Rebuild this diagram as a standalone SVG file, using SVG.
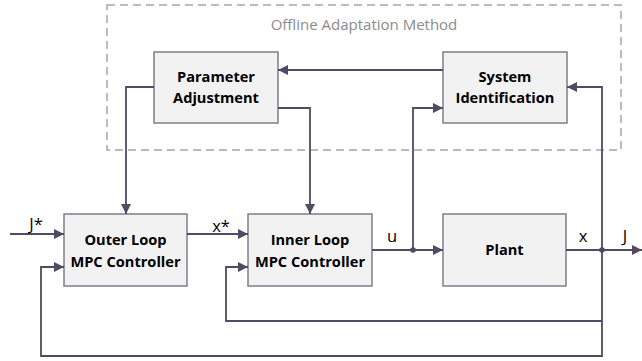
<svg xmlns="http://www.w3.org/2000/svg" width="642" height="361" viewBox="0 0 642 361">
<style>
.box{fill:#F2F2F2;stroke:#7F7D8C;stroke-width:1.5}
.lbl{font-family:"Open Sans","Liberation Sans",sans-serif;font-weight:bold;font-size:14.6px;fill:#000;text-anchor:middle}
.sig{font-family:"Open Sans","Liberation Sans",sans-serif;font-size:16.5px;fill:#000;text-anchor:middle}
.wire{fill:none;stroke:#514A63;stroke-width:1.8}
.arr{fill:none;stroke:#514A63;stroke-width:1.8;marker-end:url(#ah)}
</style>
<defs>
<marker id="ah" viewBox="0 0 10 10" refX="10" refY="5" markerWidth="10" markerHeight="10" markerUnits="userSpaceOnUse" orient="auto">
<path d="M0,0 L10,5 L0,10 Z" fill="#514A63"/>
</marker>
</defs>
<rect width="642" height="361" fill="#fff"/>
<g id="offline-group">
<rect x="107" y="5" width="514" height="145" fill="none" stroke="#A6A6A6" stroke-width="1.5" stroke-dasharray="8,5"/>
<text x="364" y="30" font-family="'Open Sans','Liberation Sans',sans-serif" font-size="15" fill="#8C8C8C" text-anchor="middle">Offline Adaptation Method</text>
</g>
<g id="param">
<rect class="box" x="154" y="52" width="124" height="71"/>
<text class="lbl" x="216" y="82">Parameter</text>
<text class="lbl" x="216" y="103">Adjustment</text>
</g>
<g id="sysid">
<rect class="box" x="443" y="52" width="124" height="71"/>
<text class="lbl" x="505" y="82">System</text>
<text class="lbl" x="505" y="103">Identification</text>
</g>
<g id="outer">
<rect class="box" x="64" y="214" width="123" height="72"/>
<text class="lbl" x="125.5" y="245">Outer Loop</text>
<text class="lbl" x="125.5" y="267">MPC Controller</text>
</g>
<g id="inner">
<rect class="box" x="248" y="214" width="124" height="72"/>
<text class="lbl" x="310" y="245">Inner Loop</text>
<text class="lbl" x="310" y="267">MPC Controller</text>
</g>
<g id="plant">
<rect class="box" x="443" y="214" width="123" height="72"/>
<text class="lbl" x="504.5" y="255">Plant</text>
</g>
<g id="connectors">
<path class="arr" d="M443,70 H278"/>
<path class="arr" d="M154,87 H126 V214"/>
<path class="arr" d="M278,108 H310 V214"/>
<path class="arr" d="M10,234 H64"/>
<path class="arr" d="M187,234 H248"/>
<path class="arr" d="M372,250 H443"/>
<path class="arr" d="M413,250 V108 H443"/>
<path class="arr" d="M566,250 H642"/>
<path class="arr" d="M602,250 V87 H567"/>
<path class="arr" d="M602,250 V321 H226 V267 H248"/>
<path class="arr" d="M602,321 V356 H41 V267 H64"/>
<circle cx="413" cy="250" r="2.8" fill="#514A63"/>
<circle cx="602" cy="250" r="2.8" fill="#514A63"/>
<text class="sig" x="36" y="230">J*</text>
<text class="sig" x="221" y="232">x*</text>
<text class="sig" x="392" y="242">u</text>
<text class="sig" x="583" y="242">x</text>
<text class="sig" x="625" y="242">J</text>
</g>
</svg>
